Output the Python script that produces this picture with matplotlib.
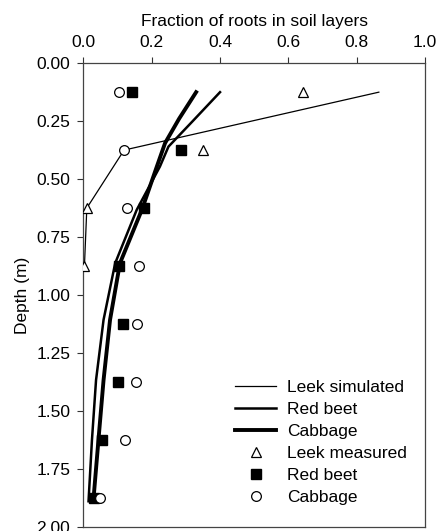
import matplotlib
matplotlib.use("Agg")
import matplotlib.pyplot as plt
from matplotlib.ticker import FormatStrFormatter

plt.rcParams['font.family'] = ['Liberation Sans', 'DejaVu Sans']

# simulated root fractions (x) against depth (y)
leek_sim_x = [0.865, 0.119, 0.010, 0.003]
leek_sim_y = [0.125, 0.375, 0.625, 0.875]

beet_sim_x = [0.400, 0.320, 0.249, 0.224, 0.156, 0.093, 0.059, 0.037, 0.025, 0.015]
beet_sim_y = [0.125, 0.250, 0.360, 0.446, 0.633, 0.863, 1.107, 1.367, 1.626, 1.890]

cabbage_sim_x = [0.330, 0.280, 0.239, 0.215, 0.171, 0.107, 0.078, 0.059, 0.044, 0.029]
cabbage_sim_y = [0.125, 0.240, 0.345, 0.446, 0.633, 0.863, 1.107, 1.367, 1.626, 1.890]

# measured
depths = [0.125, 0.375, 0.625, 0.875, 1.125, 1.375, 1.625, 1.875]
leek_meas = [0.642, 0.351, 0.010, 0.002]
beet_meas = [0.141, 0.285, 0.178, 0.105, 0.117, 0.100, 0.054, 0.032]
cabbage_meas = [0.104, 0.119, 0.127, 0.164, 0.158, 0.153, 0.122, 0.049]

fs = 12.5

fig = plt.figure(figsize=(4.39, 5.31), dpi=100)
ax = fig.add_axes([0.190, 0.008, 0.778, 0.873])

ax.plot(leek_sim_x, leek_sim_y, color='black', lw=0.9, label='Leek simulated')
ax.plot(beet_sim_x, beet_sim_y, color='black', lw=1.8, label='Red beet')
ax.plot(cabbage_sim_x, cabbage_sim_y, color='black', lw=2.8, label='Cabbage')
ax.plot(leek_meas, depths[:len(leek_meas)], ls='none', marker='^', ms=7.5,
        mfc='white', mec='black', mew=0.9, label='Leek measured', zorder=3)
ax.plot(beet_meas, depths, ls='none', marker='s', ms=6.5,
        mfc='black', mec='black', label='Red beet', zorder=3)
ax.plot(cabbage_meas, depths, ls='none', marker='o', ms=7,
        mfc='white', mec='black', mew=0.9, label='Cabbage', zorder=3)

ax.set_xlim(0, 1.0)
ax.set_ylim(2.0, 0.0)
ax.set_xticks([0.0, 0.2, 0.4, 0.6, 0.8, 1.0])
ax.set_yticks([0.0, 0.25, 0.5, 0.75, 1.0, 1.25, 1.5, 1.75, 2.0])
ax.xaxis.set_major_formatter(FormatStrFormatter('%.1f'))
ax.yaxis.set_major_formatter(FormatStrFormatter('%.2f'))
ax.xaxis.tick_top()
ax.xaxis.set_label_position('top')
ax.tick_params(direction='out', length=4.5, width=0.8, labelsize=fs, colors='#333333',
               labelcolor='black', pad=5)
for s in ax.spines.values():
    s.set_color('#444444')
    s.set_linewidth(0.9)

ax.set_xlabel('Fraction of roots in soil layers', fontsize=fs, labelpad=6.5)
ax.set_ylabel('Depth (m)', fontsize=fs, labelpad=4.5)

ax.legend(loc='lower right', bbox_to_anchor=(0.982, 0.02), frameon=False,
          fontsize=fs, handlelength=2.4, handletextpad=0.6, labelspacing=0.4,
          borderaxespad=0.3)

fig.savefig('out.png', dpi=100)
